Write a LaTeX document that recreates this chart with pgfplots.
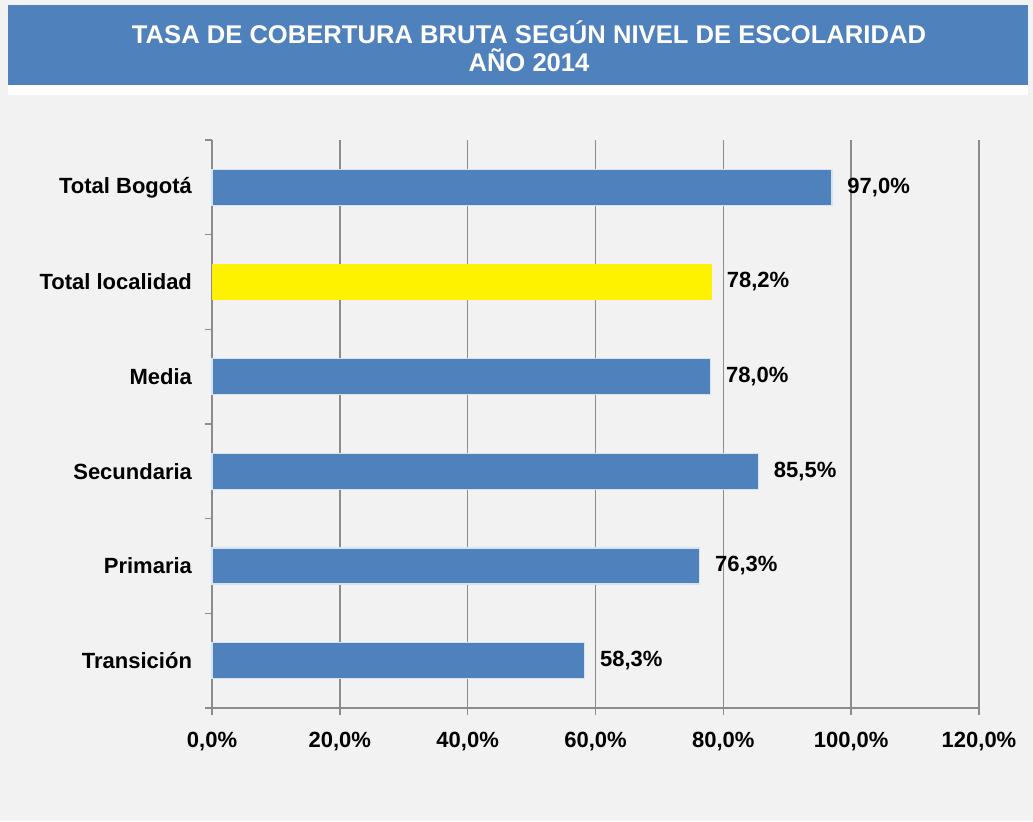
\documentclass[border=0pt]{standalone}
\usepackage{fontspec}
\setmainfont{Liberation Sans}
\usepackage{pgfplots}
\pgfplotsset{compat=1.18}

\definecolor{bg}{HTML}{F2F2F2}
\definecolor{banner}{HTML}{4F81BD}
\definecolor{barblue}{HTML}{4F81BD}
\definecolor{baredge}{HTML}{D6E3F2}
\definecolor{gridgray}{HTML}{8C8C8C}

\begin{document}
\begin{tikzpicture}
  % page background and title banner
  \fill[bg] (0,0) rectangle (516.5pt,410.5pt);
  \useasboundingbox (0,0) rectangle (516.5pt,410.5pt);
  \fill[white] (4pt,363pt) rectangle (514pt,368pt);
  \fill[banner] (4pt,368pt) rectangle (514pt,408pt);
  \node[white, font=\bfseries\fontsize{12.8}{14}\selectfont, align=center]
    at (264.5pt,387.5pt) {TASA DE COBERTURA BRUTA SEGÚN NIVEL DE ESCOLARIDAD\\AÑO 2014};

  \begin{axis}[
      at={(106pt,56.5pt)}, anchor=south west,
      scale only axis, width=383.5pt, height=284pt,
      xbar, bar width=18pt,
      xmin=0, xmax=120, ymin=-0.5, ymax=5.5,
      axis x line=bottom, axis y line=left,
      axis line style={gridgray, line width=0.7pt, -},
      xtick={0,20,...,120},
      xticklabel={\pgfmathprintnumber[fixed,fixed zerofill,precision=1,use comma]{\tick}\%},
      /pgf/number format/assume math mode=true,
      xmajorgrids, grid style={gridgray, line width=0.7pt},
      tick style={gridgray, line width=0.7pt},
      tick align=outside, major tick length=3.5pt,
      x tick label style={font=\bfseries\fontsize{11}{13}\selectfont, yshift=-5pt},
      % boundary ticks on the category axis, names in between
      ytick={-0.5,0.5,...,5.5},
      yticklabels={},
      extra y ticks={0,...,5},
      extra y tick labels={Transición, Primaria, Secundaria, Media, Total localidad, Total Bogotá},
      extra y tick style={tick style={draw=none}, grid=none},
      y tick label style={font=\bfseries\fontsize{11}{13}\selectfont, xshift=-3pt},
      nodes near coords={\pgfmathprintnumber[fixed,fixed zerofill,precision=1,use comma]{\pgfplotspointmeta}\%},
      nodes near coords style={font=\bfseries\fontsize{11}{13}\selectfont, black, anchor=west, xshift=4pt},
      clip=false,
    ]
    \addplot[fill=barblue, draw=baredge, line width=0.8pt, bar shift=0pt] coordinates {
      (58.3,0) (76.3,1) (85.5,2) (78.0,3) (97.0,5)
    };
    \addplot[fill=yellow, draw=none, bar shift=0pt] coordinates {
      (78.2,4)
    };
  \end{axis}
\end{tikzpicture}
\end{document}
